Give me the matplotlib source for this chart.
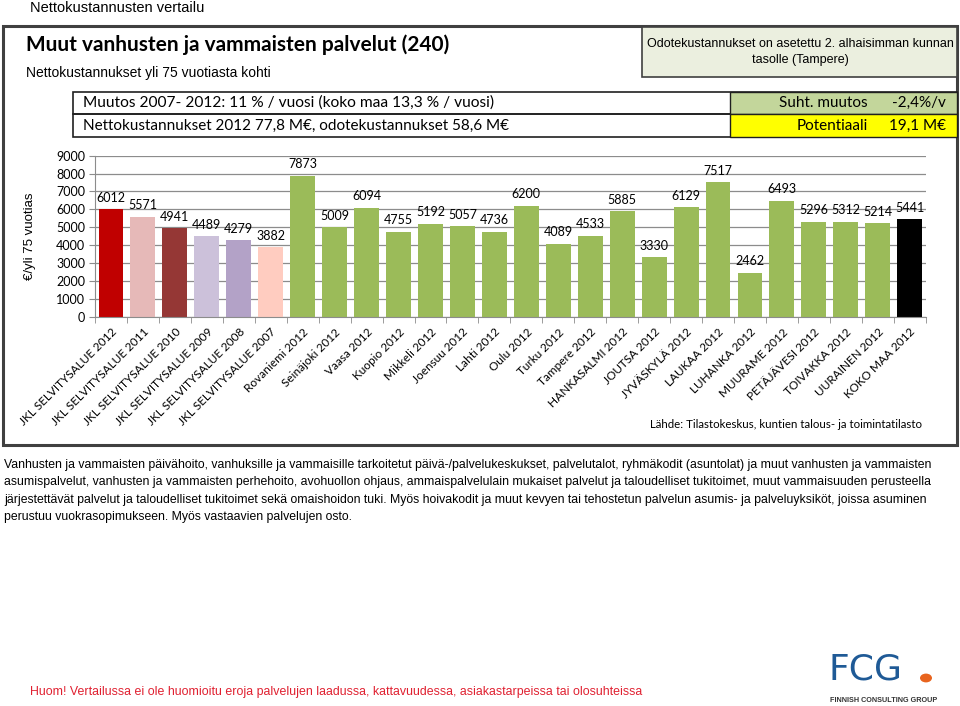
import matplotlib.pyplot as plt
from matplotlib.patches import Rectangle, Circle

# =========================
# DATA
# =========================

categories = [
    "JKL SELVITYSALUE 2012", "JKL SELVITYSALUE 2011", "JKL SELVITYSALUE 2010",
    "JKL SELVITYSALUE 2009", "JKL SELVITYSALUE 2008", "JKL SELVITYSALUE 2007",
    "Rovaniemi 2012", "Seinäjoki 2012", "Vaasa 2012", "Kuopio 2012",
    "Mikkeli 2012", "Joensuu 2012", "Lahti 2012", "Oulu 2012", "Turku 2012",
    "Tampere 2012", "HANKASALMI 2012", "JOUTSA 2012", "JYVÄSKYLÄ 2012",
    "LAUKAA 2012", "LUHANKA 2012", "MUURAME 2012", "PETÄJÄVESI 2012",
    "TOIVAKKA 2012", "UURAINEN 2012", "KOKO MAA 2012",
]

values = [
    6012, 5571, 4941, 4489, 4279, 3882,
    7873, 5009, 6094, 4755, 5192, 5057, 4736, 6200, 4089, 4533,
    5885, 3330, 6129, 7517, 2462, 6493, 5296, 5312, 5214,
    5441,
]

bar_colors = (
    ["#C00000", "#E6B9B8", "#953735", "#CCC1DA", "#B3A2C7", "#FFCCC0"]
    + ["#9BBB59"] * 19
    + ["#000000"]
)

yticks = [0, 1000, 2000, 3000, 4000, 5000, 6000, 7000, 8000, 9000]

CAL = "Lato"
ARIAL = "Liberation Sans"

# =========================
# FIGURE
# =========================

W, H = 960, 706
fig = plt.figure(figsize=(W / 100, H / 100), dpi=100)


def px(x, y):
    return x / W, 1 - y / H


def box(x0, y0, x1, y1, fc="none", ec="#404040", lw=1.0, z=1):
    fig.patches.append(Rectangle(px(x0, y1), (x1 - x0) / W, (y1 - y0) / H,
                                 transform=fig.transFigure, fc=fc, ec=ec,
                                 lw=lw, zorder=z))


def txt(x, y, s, **kw):
    fig.text(*px(x, y), s, **kw)


# page header
txt(30, 8, "Nettokustannusten vertailu", fontsize=10.5, family=ARIAL,
    va="center")

# outer frame
box(3, 26, 957, 445, ec="#404040", lw=2.2)

txt(26, 45, "Muut vanhusten ja vammaisten palvelut (240)", fontsize=15,
    family=CAL, weight="bold", va="center")
txt(26, 73, "Nettokustannukset yli 75 vuotiasta kohti", fontsize=10,
    family=ARIAL, va="center")

# note box, top right
box(642, 27, 957, 77, fc="#EBEFDF", ec="#404040", lw=1.2)
txt(800, 44, "Odotekustannukset on asetettu 2. alhaisimman kunnan",
    fontsize=9, family=ARIAL, ha="center", va="center")
txt(800, 60, "tasolle (Tampere)", fontsize=9, family=ARIAL,
    ha="center", va="center")

# info rows
box(73, 92, 957, 114, ec="#202020", lw=1.2)
box(73, 114, 957, 137, ec="#202020", lw=1.2)
box(730, 92, 957, 114, fc="#C3D69B", ec="#202020", lw=1.0, z=2)
box(730, 114, 957, 137, fc="#FFFF00", ec="#202020", lw=1.0, z=2)
txt(83, 103, "Muutos 2007- 2012: 11 % / vuosi (koko maa 13,3 % / vuosi)",
    fontsize=11.2, family=CAL, va="center")
txt(83, 126, "Nettokustannukset 2012 77,8 M€, odotekustannukset 58,6 M€",
    fontsize=11, family=CAL, va="center")
txt(868, 103, "Suht. muutos", fontsize=11, family=CAL, ha="right",
    va="center", zorder=3)
txt(946, 103, "-2,4%/v", fontsize=11, family=CAL, ha="right",
    va="center", zorder=3)
txt(868, 126, "Potentiaali", fontsize=11, family=CAL, ha="right",
    va="center", zorder=3)
txt(946, 126, "19,1 M€", fontsize=11, family=CAL, ha="right",
    va="center", zorder=3)

# =========================
# BAR CHART
# =========================

ax = fig.add_axes([95 / W, 1 - 316.7 / H, (925.7 - 95) / W, (316.7 - 155.7) / H])
x = list(range(len(categories)))
ax.bar(x, values, width=0.78, color=bar_colors, zorder=2)

for xi, v in zip(x, values):
    ax.annotate(str(v), (xi, v), xytext=(0, 4), textcoords="offset points",
                ha="center", va="bottom", fontsize=9, family=CAL)

ax.set_xlim(-0.5, len(categories) - 0.5)
ax.set_ylim(0, 9000)
ax.set_yticks(yticks)
ax.set_yticklabels([str(t) for t in yticks], fontsize=9, family=CAL)
ax.yaxis.grid(True, color="#8C8C8C", lw=0.9)
ax.set_axisbelow(True)

ax.set_xticks([i - 0.5 for i in range(len(categories) + 1)], minor=True)
ax.set_xticks(x)
ax.set_xticklabels(categories, rotation=45, ha="right",
                   rotation_mode="anchor", fontsize=8.5, family=CAL)
ax.tick_params(axis="x", which="major", length=0, pad=7)
ax.tick_params(axis="x", which="minor", length=4, color="#8C8C8C")
ax.tick_params(axis="y", length=4, color="#8C8C8C", pad=3)

for s in ["top", "right"]:
    ax.spines[s].set_visible(False)
ax.spines["left"].set_color("#8C8C8C")
ax.spines["bottom"].set_color("#8C8C8C")

txt(30, 236, "€/yli 75 vuotias", fontsize=9.5, family=ARIAL, rotation=90,
    ha="center", va="center")

txt(922, 424, "Lähde: Tilastokeskus, kuntien talous- ja toimintatilasto",
    fontsize=8.3, family=CAL, ha="right", va="center")

# =========================
# DESCRIPTION
# =========================

desc = [
    "Vanhusten ja vammaisten päivähoito, vanhuksille ja vammaisille tarkoitetut päivä-/palvelukeskukset, palvelutalot, ryhmäkodit (asuntolat) ja muut vanhusten ja vammaisten",
    "asumispalvelut, vanhusten ja vammaisten perhehoito, avohuollon ohjaus, ammaispalvelulain mukaiset palvelut ja taloudelliset tukitoimet, muut vammaisuuden perusteella",
    "järjestettävät palvelut ja taloudelliset tukitoimet sekä omaishoidon tuki. Myös hoivakodit ja muut kevyen tai tehostetun palvelun asumis- ja palveluyksiköt, joissa asuminen",
    "perustuu vuokrasopimukseen. Myös vastaavien palvelujen osto.",
]
for i, line in enumerate(desc):
    txt(4, 465 + i * 17.3, line, fontsize=8.8, family=ARIAL, va="center")

txt(30, 692, "Huom! Vertailussa ei ole huomioitu eroja palvelujen laadussa, "
    "kattavuudessa, asiakastarpeissa tai olosuhteissa", fontsize=8.9,
    family=ARIAL, color="#E02030", va="center")

# FCG logo
txt(828, 670, "FCG", fontsize=26, family="DejaVu Sans", color="#1F5A96",
    va="center", ha="left")
fig.patches.append(Circle(px(926, 678), 6 / W, transform=fig.transFigure,
                          fc="#E8641E", ec="none"))
txt(830, 701, "FINNISH CONSULTING GROUP", fontsize=5.2, family=ARIAL,
    color="#333333", weight="bold", va="center")

plt.savefig("out.png", dpi=100)
plt.close()
